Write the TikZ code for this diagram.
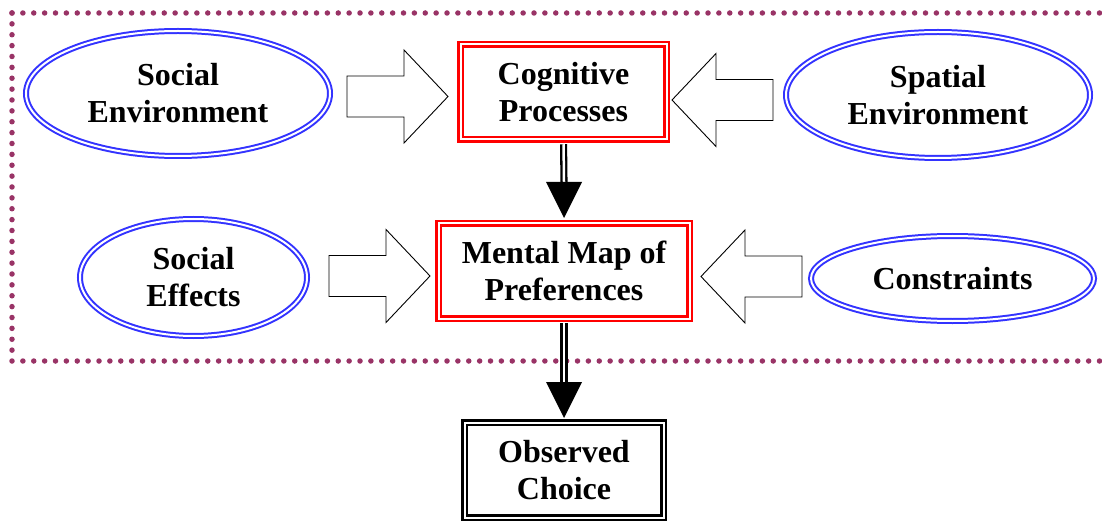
\documentclass[tikz,border=0pt]{standalone}
\usepackage{fontspec}
\setmainfont{Liberation Serif}
\usetikzlibrary{shapes.geometric}
\definecolor{dotc}{HTML}{993366}
\definecolor{ellc}{HTML}{3333FF}
\begin{document}
\begin{tikzpicture}[x=1pt,y=-1pt,
  font=\bfseries\fontsize{32}{37}\selectfont,
  oval/.style={ellipse, draw=ellc, double=white, line width=2pt, double distance=2pt, inner sep=0pt, align=center},
  redbox/.style={rectangle, draw=red, double=white, line width=2.5pt, double distance=2pt, inner sep=0pt, align=center},
  blackbox/.style={rectangle, draw=black, double=white, line width=2.5pt, double distance=2pt, inner sep=0pt, align=center},
  shaft/.style={draw=black, double=white, line width=2.3pt, double distance=2.5pt, shorten <=3.5pt},
  dotline/.style={draw=dotc, line width=5.5pt, line cap=round, dash pattern=on 0pt off 10.875pt},
  barrow/.pic={\draw[fill=white, line width=0.9pt] (0,-20.5) -- (57,-20.5) -- (57,-46.5) -- (101,0) -- (57,46.5) -- (57,20.5) -- (0,20.5) -- cycle;}
]
\useasboundingbox (0,0) rectangle (1102,521);
\clip (0,0) rectangle (1102,521);

% dotted frame
\draw[dotline] (12,13) -- (1110,13);
\draw[dotline] (12,13) -- (12,361) -- (1110,361);

% ellipses
\node[oval, minimum width=304pt, minimum height=125pt] (se) at (178,93.5) {Social\\Environment};
\node[oval, minimum width=304pt, minimum height=126pt] (sp) at (938,95) {Spatial\\Environment};
\node[oval, minimum width=227pt, minimum height=117pt] (sf) at (193.5,277.5) {Social\\Effects};
\node[oval, minimum width=283pt, minimum height=85pt] (co) at (952.5,278.5) {Constraints};

% boxes
\node[redbox, minimum width=206pt, minimum height=95pt] (cp) at (563.5,92) {Cognitive\\Processes};
\node[redbox, minimum width=251pt, minimum height=95pt] (mm) at (564,271) {Mental Map of\\Preferences};
\node[blackbox, minimum width=199pt, minimum height=95pt] (oc) at (564,470) {Observed\\Choice};

% block arrows
\pic at (347,96.5) {barrow};
\pic[rotate=180] at (773,100) {barrow};
\pic at (329,276) {barrow};
\pic[rotate=180] at (802,276.5) {barrow};

% double-shaft arrows
\coordinate (b1) at (564,182);
\coordinate (t1) at (564,218);
\coordinate (b2) at (564,382);
\coordinate (t2) at (564,418);
\draw[shaft] (cp.south) -- (b1);
\fill (b1) ++(-18,0) -- ++(36,0) -- (t1) -- cycle;
\draw[shaft] (mm.south) -- (b2);
\fill (b2) ++(-18,0) -- ++(36,0) -- (t2) -- cycle;
\end{tikzpicture}
\end{document}
